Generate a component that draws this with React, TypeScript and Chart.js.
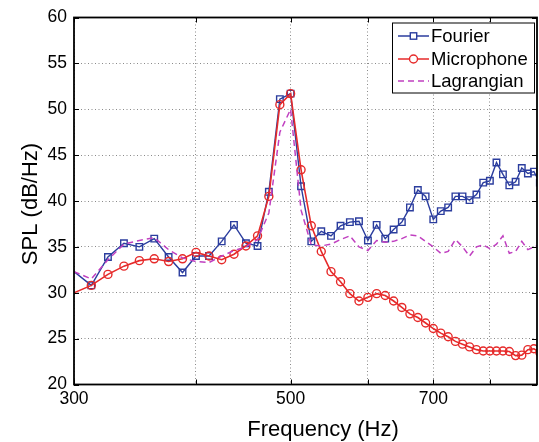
import React, { useEffect, useRef } from 'react';
import { Chart, registerables } from 'chart.js';

Chart.register(...registerables);

// ---- data ----
const frequencies = [
  300, 312.5, 325, 337.5, 350, 362.5, 375, 387.5, 400, 412.5, 425, 437.5, 450, 462.5, 475, 487.5,
  500, 512.5, 525, 537.5, 550, 562.5, 575, 587.5, 600, 612.5, 625, 637.5, 650, 662.5, 675, 687.5,
  700, 712.5, 725, 737.5, 750, 762.5, 775, 787.5, 800, 812.5, 825, 837.5, 850, 862.5, 875, 887.5, 900,
];
const fourier = [
  32.3, 30.8, 33.9, 35.4, 35.0, 35.9, 33.9, 32.2, 34.0, 34.0, 35.6, 37.4, 35.4, 35.1, 41.0, 51.1,
  51.7, 41.6, 35.6, 36.7, 36.2, 37.3, 37.7, 37.8, 35.7, 37.4, 35.9, 36.9, 37.7, 39.3, 41.2, 40.5,
  38.0, 38.9, 39.3, 40.5, 40.5, 40.1, 40.7, 42.0, 42.2, 44.2, 42.9, 41.7, 42.1, 43.6, 43.0, 43.2, 42.0,
];
const microphone = [
  30.0, 30.8, 32.0, 32.9, 33.5, 33.7, 33.4, 33.7, 34.4, 34.0, 33.6, 34.2, 35.1, 36.2, 40.5, 50.5,
  51.7, 43.4, 37.3, 34.5, 32.3, 31.2, 29.9, 29.1, 29.5, 29.9, 29.7, 29.1, 28.4, 27.7, 27.3, 26.7,
  26.1, 25.6, 25.2, 24.7, 24.4, 24.1, 23.8, 23.65, 23.65, 23.65, 23.65, 23.6, 23.15, 23.2, 23.8, 23.9, 23.5,
];
const lagrangian = [
  32.3, 31.5, 33.6, 35.3, 35.7, 36.0, 34.7, 33.8, 33.4, 33.3, 34.0, 34.6, 35.0, 35.8, 38.7, 47.5,
  50.0, 39.0, 35.2, 35.1, 35.3, 35.8, 36.2, 35.0, 34.6, 35.7, 35.5, 35.6, 35.9, 36.3, 36.2, 35.6,
  35.0, 34.3, 34.5, 35.8, 35.0, 34.0, 35.0, 35.2, 34.8, 35.3, 36.2, 34.3, 34.5, 35.6, 34.7, 35.0, 35.2,
];
const xGridTicks = [300, 400, 500, 600, 700, 800];
const xTickLabels = [300, 500, 700];
const yTickStep = 5;
const seriesNames = ['Fourier', 'Microphone', 'Lagrangian'];
const xTitle = 'Frequency (Hz)';
const yTitle = 'SPL (dB/Hz)';

// ---- styles ----
const BLUE = '#2b3d9e';
const RED = '#e62a2a';
const MAGENTA = '#c040c0';
const FONT = '"Liberation Sans", Arial, Helvetica, sans-serif';
const GRID = '#8a8a8a';

const toPoints = (ys: number[]) => frequencies.map((f, i) => ({ x: f, y: ys[i] }));

const framePlugin = {
  id: 'frame',
  afterDatasetsDraw(chart: any) {
    const { ctx, chartArea: a, scales } = chart;
    ctx.save();
    ctx.strokeStyle = '#000';
    ctx.lineWidth = 1;
    const tl = 5;
    ctx.beginPath();
    scales.y.ticks.forEach((t: any) => {
      const y = Math.round(scales.y.getPixelForValue(t.value)) + 0.5;
      ctx.moveTo(a.left, y); ctx.lineTo(a.left + tl, y);
      ctx.moveTo(a.right, y); ctx.lineTo(a.right - tl, y);
    });
    scales.x.ticks.forEach((t: any) => {
      const x = Math.round(scales.x.getPixelForValue(t.value)) + 0.5;
      ctx.moveTo(x, a.bottom); ctx.lineTo(x, a.bottom - tl);
      ctx.moveTo(x, a.top); ctx.lineTo(x, a.top + tl);
    });
    ctx.stroke();
    ctx.lineWidth = 1.8;
    ctx.strokeRect(a.left, a.top, a.right - a.left, a.bottom - a.top);
    ctx.restore();
  },
};

const legendPlugin = {
  id: 'matlabLegend',
  afterDraw(chart: any) {
    const { ctx, chartArea: a } = chart;
    const w = 142, h = 70;
    const bx = a.right - 3 - w, by = a.top + 5;
    ctx.save();
    ctx.fillStyle = '#fff';
    ctx.fillRect(bx, by, w, h);
    ctx.strokeStyle = '#000';
    ctx.lineWidth = 1;
    ctx.strokeRect(bx + 0.5, by + 0.5, w, h);
    const colors = [BLUE, RED, MAGENTA];
    const rows = [by + 13.5, by + 36.5, by + 58.5];
    ctx.font = `18.5px ${FONT}`;
    ctx.textBaseline = 'middle';
    seriesNames.forEach((name, i) => {
      const y = rows[i];
      const x0 = bx + 6, x1 = bx + 37, xm = (x0 + x1) / 2;
      ctx.strokeStyle = colors[i];
      ctx.lineWidth = 1.5;
      ctx.setLineDash(i === 2 ? [6, 4] : []);
      ctx.beginPath(); ctx.moveTo(x0, y); ctx.lineTo(x1, y); ctx.stroke();
      ctx.setLineDash([]);
      ctx.lineWidth = 1.4;
      if (i === 0) {
        ctx.fillStyle = '#fff';
        ctx.fillRect(xm - 3.2, y - 3.2, 6.4, 6.4);
        ctx.strokeRect(xm - 3.2, y - 3.2, 6.4, 6.4);
      } else if (i === 1) {
        ctx.fillStyle = '#fff';
        ctx.beginPath(); ctx.arc(xm, y, 4, 0, Math.PI * 2); ctx.fill(); ctx.stroke();
      }
      ctx.fillStyle = '#000';
      ctx.fillText(name, x1 + 2, y + 1);
    });
    ctx.restore();
  },
};

const titlePlugin = {
  id: 'axisTitles',
  afterDraw(chart: any) {
    const { ctx } = chart;
    ctx.save();
    ctx.fillStyle = '#000';
    ctx.font = `22px ${FONT}`;
    ctx.textAlign = 'center';
    ctx.textBaseline = 'alphabetic';
    ctx.fillText(xTitle, 323, 436);
    ctx.translate(37, 204);
    ctx.rotate(-Math.PI / 2);
    ctx.fillText(yTitle, 0, 0);
    ctx.restore();
  },
};

export default function App() {
  const ref = useRef<HTMLCanvasElement | null>(null);
  useEffect(() => {
    if (!ref.current) return;
    const hideEdge = (c: any, r: number) => (c.raw && c.raw.x <= 300 ? 0 : r);
    const chart = new Chart(ref.current, {
      type: 'line',
      data: {
        datasets: [
          {
            label: seriesNames[2],
            data: toPoints(lagrangian),
            borderColor: MAGENTA,
            borderWidth: 1.5,
            borderDash: [6, 4],
            pointRadius: 0,
            fill: false,
            tension: 0,
            clip: 0,
          },
          {
            label: seriesNames[1],
            data: toPoints(microphone),
            borderColor: RED,
            borderWidth: 1.6,
            pointStyle: 'circle',
            pointRadius: (c: any) => hideEdge(c, 4),
            pointBorderColor: RED,
            pointBackgroundColor: 'rgba(255,255,255,0)',
            pointBorderWidth: 1.4,
            fill: false,
            tension: 0,
            clip: 0,
          },
          {
            label: seriesNames[0],
            data: toPoints(fourier),
            borderColor: BLUE,
            borderWidth: 1.4,
            pointStyle: 'rect',
            pointRadius: (c: any) => hideEdge(c, 4.6),
            pointBorderColor: BLUE,
            pointBackgroundColor: 'rgba(255,255,255,0)',
            pointBorderWidth: 1.4,
            fill: false,
            tension: 0,
            clip: 0,
          },
        ] as any,
      },
      options: {
        animation: false,
        responsive: false,
        devicePixelRatio: 1,
        layout: { autoPadding: false, padding: { top: 17.5, right: 2, left: 0, bottom: 0 } },
        plugins: { legend: { display: false }, tooltip: { enabled: false } },
        scales: {
          x: {
            type: 'logarithmic',
            min: 300,
            max: 894,
            afterBuildTicks: (s: any) => {
              s.ticks = xGridTicks.map((v) => ({ value: v }));
            },
            afterFit: (s: any) => {
              s.height = 57.5;
              s.paddingLeft = 0;
              s.paddingRight = 0;
            },
            ticks: {
              autoSkip: false,
              maxRotation: 0,
              padding: 4,
              color: '#000',
              font: { family: FONT, size: 17.5 },
              callback: (v: any) => (xTickLabels.includes(Number(v)) ? String(v) : ''),
            },
            grid: { color: GRID, lineWidth: 1, drawTicks: false },
            border: { display: false, dash: [1, 2.5] },
          },
          y: {
            type: 'linear',
            min: 20,
            max: 60,
            afterFit: (s: any) => {
              s.width = 74;
              s.paddingTop = 0;
              s.paddingBottom = 0;
            },
            ticks: {
              stepSize: yTickStep,
              padding: 7,
              color: '#000',
              font: { family: FONT, size: 17.5 },
            },
            grid: { color: GRID, lineWidth: 1, drawTicks: false },
            border: { display: false, dash: [1, 2.5] },
          },
        },
      } as any,
      plugins: [framePlugin, legendPlugin, titlePlugin],
    });
    return () => chart.destroy();
  }, []);
  return (
    <div style={{ position: 'absolute', left: 0, top: 0, width: 539, height: 442, background: '#fff' }}>
      <canvas ref={ref} width={539} height={442} style={{ display: 'block' }} />
    </div>
  );
}
